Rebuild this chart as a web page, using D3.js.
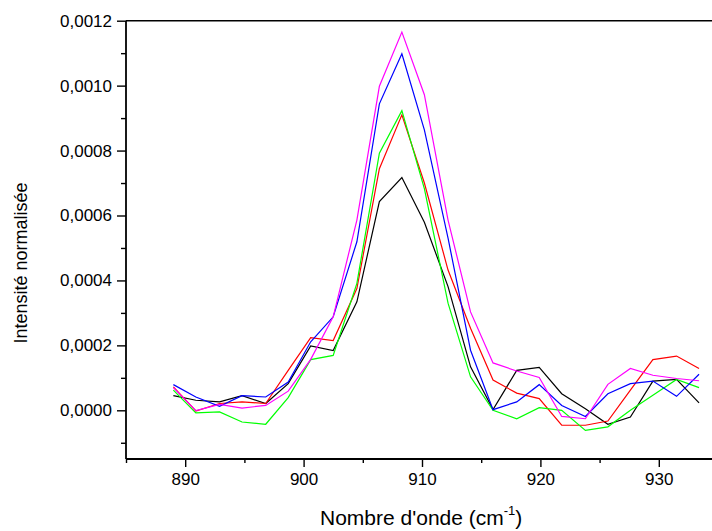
<!DOCTYPE html>
<html>
<head>
<meta charset="utf-8">
<script src="https://cdn.jsdelivr.net/npm/d3@7"></script>
<style>
  html, body { margin: 0; padding: 0; background: #fff; }
  svg { display: block; font-family: "Liberation Sans", Arial, sans-serif; }
</style>
</head>
<body>
<svg id="chart" width="712" height="531"></svg>
<script>
// Wavenumbers (cm-1)
const wavenumbers = [889.0, 890.9, 892.9, 894.8, 896.8, 898.7, 900.6, 902.5, 904.5, 906.4, 908.3, 910.2,
                     912.2, 914.1, 916.0, 918.0, 919.9, 921.8, 923.8, 925.7, 927.6, 929.5, 931.5, 933.4];

// Series values (units of 1e-4)
const blackSeries   = [0.45, 0.31, 0.26, 0.45, 0.21, 0.82, 1.98, 1.84, 3.34, 6.43, 7.17, 5.79,
                       3.81, 1.34, 0.02, 1.23, 1.32, 0.51, 0.05, -0.43, -0.21, 0.90, 0.95, 0.23];
const redSeries     = [0.72, -0.02, 0.21, 0.26, 0.21, 1.23, 2.24, 2.15, 3.75, 7.44, 9.10, 7.00,
                       4.32, 2.53, 0.93, 0.53, 0.36, -0.46, -0.46, -0.33, 0.62, 1.56, 1.67, 1.29];
const greenSeries   = [0.62, -0.08, -0.05, -0.36, -0.43, 0.39, 1.56, 1.69, 3.91, 7.92, 9.23, 6.83,
                       3.30, 1.03, 0.00, -0.26, 0.08, 0.00, -0.62, -0.51, 0.00, 0.46, 0.95, 0.70];
const blueSeries    = [0.79, 0.41, 0.12, 0.45, 0.41, 0.87, 2.11, 2.88, 5.19, 9.44, 10.98, 8.64,
                       5.30, 1.85, 0.02, 0.26, 0.79, 0.15, -0.19, 0.51, 0.82, 0.90, 0.43, 1.11];
const magentaSeries = [0.70, -0.01, 0.18, 0.07, 0.15, 0.59, 1.57, 2.88, 5.86, 9.98, 11.65, 9.72,
                       5.86, 3.03, 1.46, 1.21, 1.01, -0.19, -0.26, 0.80, 1.29, 1.08, 0.98, 0.91];

const seriesNames  = ["black", "red", "green", "blue", "magenta"];
const seriesValues = [blackSeries, redSeries, greenSeries, blueSeries, magentaSeries];
const seriesColors = ["#000000", "#ff0000", "#00ff00", "#0000ff", "#ff00ff"];

const xMajorTicks = [890, 900, 910, 920, 930];
const xMinorTicks = [885, 895, 905, 915, 925, 935];
const yMajorTicks = [0, 0.0002, 0.0004, 0.0006, 0.0008, 0.0010, 0.0012];
const yMinorTicks = [-0.0001, 0.0001, 0.0003, 0.0005, 0.0007, 0.0009, 0.0011];

const xTitle = "Nombre d'onde (cm";
const xTitleSup = "-1";
const yTitle = "Intensité normalisée";

(function () {
const svg = d3.select("#chart");
const mLeft = 126, mRight = 718, mTop = 20.7, mBottom = 459;

const x = d3.scaleLinear().domain([885, 935]).range([mLeft, mRight]);
const y = d3.scaleLinear().domain([-0.00015, 0.0012]).range([mBottom, mTop]);

const fmt = v => d3.format(".4f")(v).replace(".", ",");

// Data lines
const line = d3.line().x(d => x(d[0])).y(d => y(d[1] * 1e-4));
seriesValues.forEach((vals, i) => {
  svg.append("path")
    .datum(wavenumbers.map((w, j) => [w, vals[j]]))
    .attr("fill", "none")
    .attr("stroke", seriesColors[i])
    .attr("stroke-width", 1.2)
    .attr("stroke-linejoin", "miter")
    .attr("d", line);
});

// Frame (top + right)
svg.append("line").attr("x1", mLeft).attr("x2", mRight).attr("y1", mTop).attr("y2", mTop)
  .attr("stroke", "#000").attr("stroke-width", 1.6);
svg.append("line").attr("x1", mRight).attr("x2", mRight).attr("y1", mTop).attr("y2", mBottom)
  .attr("stroke", "#000").attr("stroke-width", 1.6);

// Bottom axis
const gx = svg.append("g").attr("transform", `translate(0,${mBottom})`);
gx.call(d3.axisBottom(x).tickValues(xMinorTicks).tickSize(4).tickFormat(""));
gx.call(g => g.select(".domain").remove());
const gx2 = svg.append("g").attr("transform", `translate(0,${mBottom})`);
gx2.call(d3.axisBottom(x).tickValues(xMajorTicks).tickSize(8).tickPadding(6).tickFormat(d3.format("d")));
gx2.select(".domain").attr("d", `M${mLeft},0H${mRight}`);
[gx, gx2].forEach(g => {
  g.selectAll("line").attr("stroke", "#000").attr("stroke-width", 1.4);
  g.selectAll("path").attr("stroke", "#000").attr("stroke-width", 1.8);
  g.selectAll("text").attr("font-size", 17).attr("fill", "#000")
    .attr("font-family", "Liberation Sans, Arial, sans-serif");
});

// Left axis
const gy = svg.append("g").attr("transform", `translate(${mLeft},0)`);
gy.call(d3.axisLeft(y).tickValues(yMinorTicks).tickSize(5).tickFormat(""));
gy.call(g => g.select(".domain").remove());
const gy2 = svg.append("g").attr("transform", `translate(${mLeft},0)`);
gy2.call(d3.axisLeft(y).tickValues(yMajorTicks).tickSize(9).tickPadding(5).tickFormat(fmt));
gy2.select(".domain").attr("d", `M0,${mTop}V${mBottom}`);
[gy, gy2].forEach(g => {
  g.selectAll("line").attr("stroke", "#000").attr("stroke-width", 1.4);
  g.selectAll("path").attr("stroke", "#000").attr("stroke-width", 1.8);
  g.selectAll("text").attr("font-size", 17).attr("fill", "#000")
    .attr("font-family", "Liberation Sans, Arial, sans-serif");
});

// Axis titles
const xt = svg.append("text")
  .attr("x", 320).attr("y", 525)
  .attr("font-size", 21).attr("fill", "#000");
xt.append("tspan").text(xTitle);
xt.append("tspan").attr("font-size", 13).attr("dy", -10).text(xTitleSup);
xt.append("tspan").attr("dy", 10).text(")");

svg.append("text")
  .attr("transform", "translate(27,263) rotate(-90)")
  .attr("text-anchor", "middle")
  .attr("font-size", 18).attr("fill", "#000")
  .text(yTitle);
})();
</script>
</body>
</html>
